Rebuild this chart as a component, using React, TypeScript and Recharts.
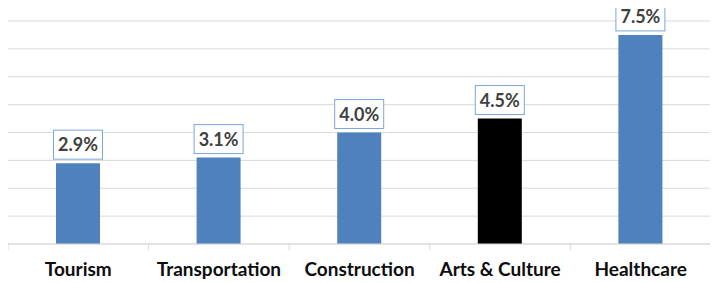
import { BarChart, Bar, XAxis, YAxis, CartesianGrid, LabelList, Cell } from "recharts";

const sectors = ["Tourism", "Transportation", "Construction", "Arts & Culture", "Healthcare"];
const growth = [2.9, 3.1, 4.0, 4.5, 7.5];
const yTicks = [0, 1, 2, 3, 4, 5, 6, 7, 8];
const highlighted = "Arts & Culture";

const data = sectors.map((name, i) => ({ name, value: growth[i] }));

const FONT = "Lato, 'Open Sans', sans-serif";

// category label with Excel-style tick marks at the band edges
const SectorTick = (props: any) => {
  const { x, y, payload, index } = props;
  const half = payload?.offset ?? 70.3;
  return (
    <g>
      <line x1={x - half} x2={x - half} y1={y} y2={y + 6} stroke="#D9D9D9" />
      {index === sectors.length - 1 && (
        <line x1={x + half} x2={x + half} y1={y} y2={y + 6} stroke="#D9D9D9" />
      )}
      <text
        x={x}
        y={y + 32}
        textAnchor="middle"
        fontFamily={FONT}
        fontWeight={700}
        fontSize={19}
        fill="#0D0D0D"
      >
        {payload.value}
      </text>
    </g>
  );
};

const ValueBox = (props: any) => {
  const { x, y, width, value } = props;
  const cx = x + width / 2;
  const w = 49;
  const h = 29;
  const bottom = y - 4;
  return (
    <g>
      <rect x={cx - w / 2} y={bottom - h} width={w} height={h} fill="#FFFFFF" stroke="#7EA6D8" strokeWidth={1} />
      <text
        x={cx}
        y={bottom - h / 2 + 6.5}
        textAnchor="middle"
        fontFamily={FONT}
        fontWeight={700}
        fontSize={18}
        fill="#404040"
      >
        {Number(value).toFixed(1)}%
      </text>
    </g>
  );
};

export default function App() {
  return (
    <div style={{ marginTop: -8 }}>
      <BarChart
        width={710}
        height={283}
        data={data}
        margin={{ top: 21, right: 7, bottom: 0, left: 0 }}
        barSize={44}
      >
        <CartesianGrid vertical={false} stroke="#D9D9D9" />
        <XAxis
          dataKey="name"
          height={39}
          stroke="#D9D9D9"
          tickLine={false}
          tickSize={0}
          tickMargin={0}
          interval={0}
          tick={<SectorTick />}
        />
        <YAxis hide domain={[0, 8]} ticks={yTicks} />
        <Bar dataKey="value" isAnimationActive={false}>
          {data.map((d) => (
            <Cell key={d.name} fill={d.name === highlighted ? "#000000" : "#4F81BD"} />
          ))}
          <LabelList dataKey="value" content={<ValueBox />} />
        </Bar>
      </BarChart>
    </div>
  );
}
